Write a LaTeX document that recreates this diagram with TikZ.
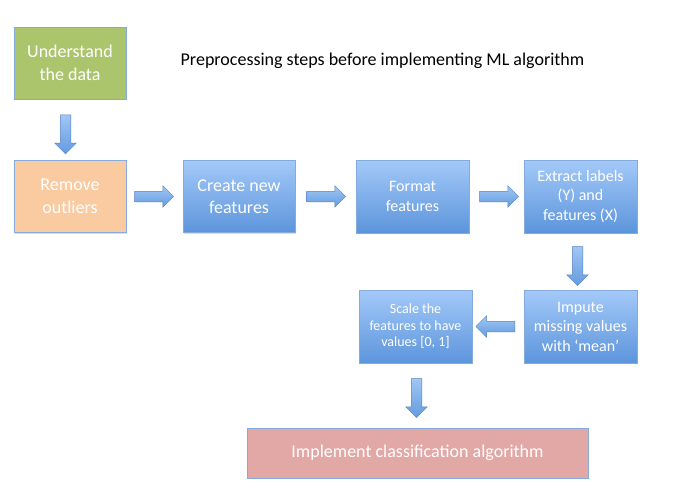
\documentclass[tikz,border=0pt]{standalone}
\usepackage{fontspec}
\setmainfont{Carlito}
\usetikzlibrary{shapes.arrows,shadows,calc}
\definecolor{boxedge}{RGB}{132,170,222}
\definecolor{greenbox}{RGB}{170,197,108}
\definecolor{peachbox}{RGB}{250,203,161}
\definecolor{redbox}{RGB}{225,168,166}
\definecolor{bluetop}{RGB}{164,201,248}
\definecolor{bluebot}{RGB}{92,149,220}
\definecolor{arrowedge}{RGB}{88,130,195}
\definecolor{arrowlight}{RGB}{160,198,245}
\definecolor{arrowdark}{RGB}{100,155,222}
\tikzset{
  x=1pt, y=-1pt,
  stepbox/.style={draw=boxedge, line width=0.8pt, text=white, align=center,
    inner sep=0pt,
    drop shadow={shadow xshift=0.6pt, shadow yshift=-1.4pt, opacity=0.25}},
  bluebox/.style={stepbox, top color=bluetop, bottom color=bluebot},
  blockarrow/.style={single arrow, draw=arrowedge, line width=0.5pt,
    top color=arrowlight, bottom color=arrowdark,
    inner sep=5pt, single arrow head extend=5.5pt, minimum height=39pt,
    anchor=center},
  big/.style={font=\fontsize{18}{22.5}\selectfont},
  mid/.style={font=\fontsize{16}{19.5}\selectfont},
  small/.style={font=\fontsize{14}{16.5}\selectfont},
}
\begin{document}
\begin{tikzpicture}
\useasboundingbox (0,0) rectangle (690,499);
\fill[white] (0,0) rectangle (690,499);

\node[stepbox, fill=greenbox, big, minimum width=112pt, minimum height=72pt] (und) at (70,63) {Understand\\the data};
\node[big, text=black] (title) at (382.5,61) {Preprocessing steps before implementing ML algorithm};

\node[stepbox, fill=peachbox, big, minimum width=112pt, minimum height=72pt] (rem) at (70,196.5) {Remove\\outliers};
\node[bluebox, big, minimum width=112pt, minimum height=72pt] (cre) at (239,196.5) {Create new\\features};
\node[bluebox, mid, minimum width=113pt, minimum height=73pt] (fmt) at (412.5,196.5) {Format\\features};
\node[bluebox, mid, minimum width=113pt, minimum height=73pt] (ext) at (580.5,196.5) {Extract labels\\(Y) and\\features (X)};
\node[bluebox, mid, minimum width=113pt, minimum height=73pt] (imp) at (580.5,326.5) {Impute\\missing values\\with ‘mean’};
\node[bluebox, small, minimum width=113pt, minimum height=73pt] (scl) at (415.5,326.5) {Scale the\\features to have\\values [0, 1]};
\node[stepbox, fill=redbox, big, minimum width=341pt, minimum height=50pt] (cls) at (417.5,453) {Implement classification algorithm};

\node[blockarrow, rotate=-90] (a1) at ($(und.south)!0.5!(rem.north)+(-4.5,2)$) {};
\node[blockarrow] (a2) at ($(rem.east)!0.5!(cre.west)+(-3,0)$) {};
\node[blockarrow] (a3) at ($(cre.east)!0.5!(fmt.west)+(-2,0)$) {};
\node[blockarrow] (a4) at ($(fmt.east)!0.5!(ext.west)$) {};
\node[blockarrow, rotate=-90] (a5) at ($(ext.south)!0.5!(imp.north)+(-3,2)$) {};
\node[blockarrow, rotate=180] (a6) at ($(imp.west)!0.5!(scl.east)$) {};
\node[blockarrow, rotate=-90] (a7) at ($(scl.south)!0.5!(cls.north)$) {};
\end{tikzpicture}
\end{document}
